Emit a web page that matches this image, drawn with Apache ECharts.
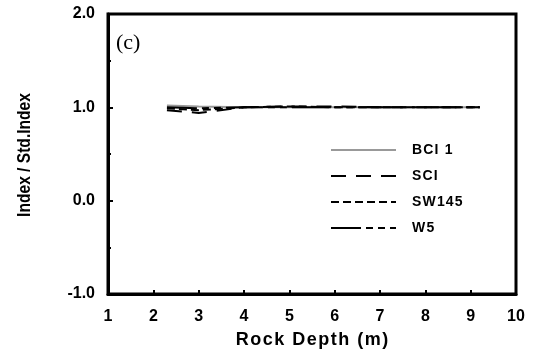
<!DOCTYPE html>
<html>
<head>
<meta charset="utf-8">
<script src="https://cdn.jsdelivr.net/npm/echarts@6/dist/echarts.min.js"></script>
<style>
html,body{margin:0;padding:0;background:#fff;}
#chart{width:537px;height:354px;}
</style>
</head>
<body>
<div id="chart"></div>
<script>
// Rock depth (m) and normalised index values
const depth = [2.3, 3, 4, 5, 6, 7, 8, 9.2];
const bci1  = [1.02, 1.01, 1.0, 1.0, 1.0, 1.0, 1.0, 1.0];
const sci   = [0.97, 0.94, 1.0, 1.01, 1.01, 1.0, 1.0, 1.0];
const sw145 = [0.99, 0.97, 1.0, 1.01, 1.0, 1.0, 1.0, 1.0];
const w5    = [1.0, 0.99, 1.0, 1.0, 1.0, 1.0, 1.0, 1.0];
const seriesNames = ['BCI 1', 'SCI', 'SW145', 'W5'];
const yTitle = 'Index / Std.Index';
const xTitle = 'Rock Depth (m)';
const panelTag = '(c)';

const pair = (ys) => depth.map((d, i) => [d, ys[i]]);
const font = 'Arial, "Liberation Sans", sans-serif';
// widen text a little by putting hair spaces between the characters
const spaced = (s) => String(s).split('').join('\u200A');

const chart = echarts.init(document.getElementById('chart'));
chart.setOption({
  animation: false,
  grid: { left: 108, right: 21, top: 14, bottom: 58, show: true, borderColor: '#000', borderWidth: 3, backgroundColor: 'transparent' },
  legend: {
    orient: 'vertical', left: 325, top: 138, itemWidth: 65, itemHeight: 14, itemGap: 12,
    data: seriesNames,
    itemStyle: { opacity: 0 },
    formatter: (n) => spaced(n),
    textStyle: { fontFamily: font, fontWeight: 'bold', fontSize: 14, color: '#000', padding: [0, 0, 0, 11] }
  },
  xAxis: {
    type: 'value', min: 1, max: 10, interval: 1,
    name: spaced(xTitle), nameLocation: 'middle', nameGap: 37,
    nameTextStyle: { fontFamily: font, fontWeight: 'bold', fontSize: 18, color: '#000' },
    axisLine: { onZero: false, lineStyle: { color: '#000', width: 3 } },
    axisTick: { inside: true, length: 4, lineStyle: { color: '#000', width: 2 } },
    axisLabel: { fontFamily: font, fontWeight: 'bold', fontSize: 16, color: '#000', margin: 15 },
    splitLine: { show: false }
  },
  yAxis: {
    type: 'value', min: -1, max: 2, interval: 1,
    axisLine: { onZero: false, lineStyle: { color: '#000', width: 3 } },
    axisTick: { inside: true, length: 5, lineStyle: { color: '#000', width: 2 } },
    minorTick: { show: true, splitNumber: 2, length: 3, lineStyle: { color: '#000', width: 2 } },
    axisLabel: { fontFamily: font, fontWeight: 'bold', fontSize: 16, color: '#000', margin: 13, formatter: v => v.toFixed(1) },
    splitLine: { show: false }
  },
  graphic: [
    {
      type: 'text', left: 116, top: 32,
      style: { text: panelTag, font: '22px "Liberation Serif", "Times New Roman", serif', fill: '#000' }
    },
    {
      // condensed, rotated y-axis title
      type: 'text', x: 25, y: 155, rotation: Math.PI / 2, scaleX: 0.82,
      style: { text: yTitle, font: 'bold 19px Arial, "Liberation Sans", sans-serif', fill: '#000', align: 'center', verticalAlign: 'middle' }
    }
  ],
  series: [
    { name: seriesNames[0], type: 'line', symbol: 'none', data: pair(bci1),
      lineStyle: { color: '#999', width: 2, type: 'solid' }, itemStyle: { color: '#999' } },
    { name: seriesNames[1], type: 'line', symbol: 'none', data: pair(sci),
      lineStyle: { color: '#000', width: 2, type: [15, 10] }, itemStyle: { color: '#000' } },
    { name: seriesNames[2], type: 'line', symbol: 'none', data: pair(sw145),
      lineStyle: { color: '#000', width: 2, type: [8, 4] }, itemStyle: { color: '#000' } },
    { name: seriesNames[3], type: 'line', symbol: 'none', data: pair(w5),
      lineStyle: { color: '#000', width: 2, type: [30, 5, 7, 5, 7, 5, 7, 0] }, itemStyle: { color: '#000' } }
  ]
});
</script>
</body>
</html>
